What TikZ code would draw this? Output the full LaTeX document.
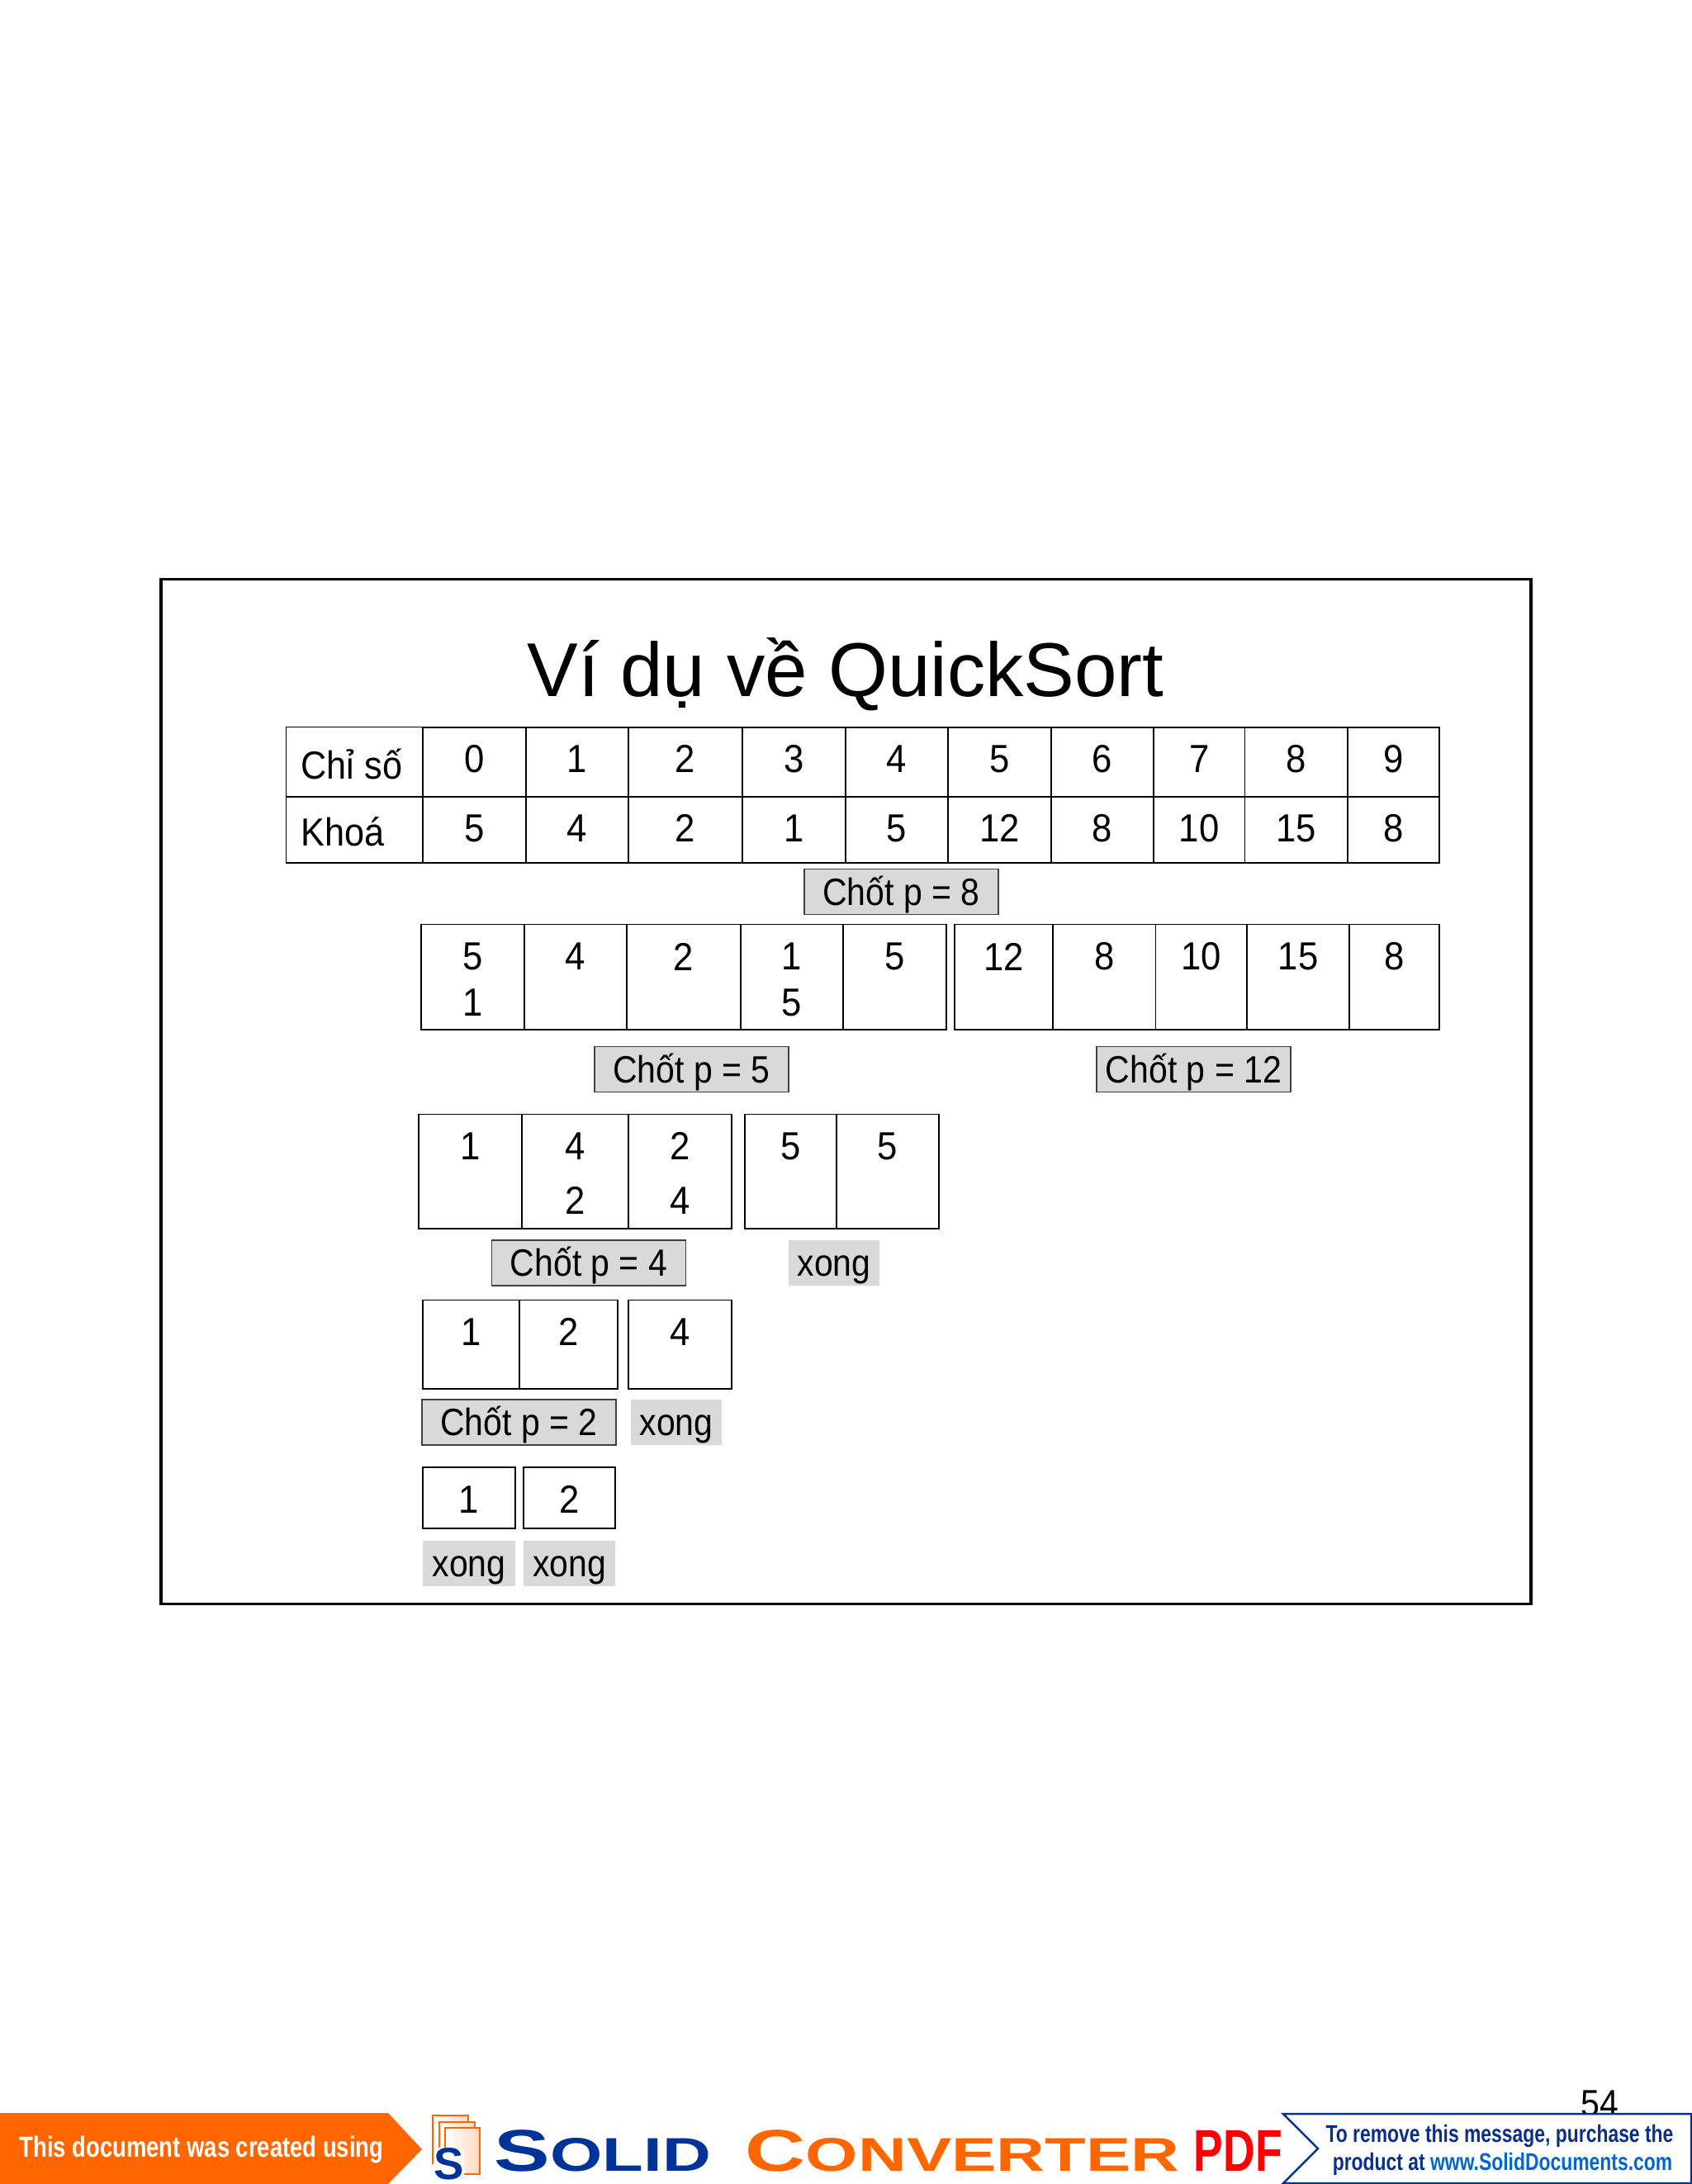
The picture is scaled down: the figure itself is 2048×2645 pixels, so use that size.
\documentclass[tikz,border=0pt]{standalone}
\usepackage{fontspec}
\setmainfont{Liberation Sans}
\newfontfamily\slidefont[FakeStretch=0.89]{Liberation Sans}
\newfontfamily\digitfont[FakeStretch=0.92]{Liberation Sans}
\newfontfamily\labelfont[FakeStretch=0.91]{Liberation Sans}
\newfontfamily\condfont[FakeStretch=0.78]{Liberation Sans}
\newfontfamily\widefont[FakeStretch=1.42]{Liberation Sans}
\newfontfamily\pdffont[FakeStretch=0.75]{Liberation Sans}
\definecolor{keygray}{HTML}{D9D9D9}
\definecolor{bannerorange}{HTML}{FF6600}
\definecolor{solidblue}{HTML}{003399}
\definecolor{ribbonblue}{HTML}{0B2E8A}
\definecolor{wwwblue}{HTML}{0066CC}
\begin{document}
\begin{tikzpicture}[x=0.01cm,y=-0.01cm,
	cellbox/.style={draw, line width=0.55pt, inner sep=0pt, outer sep=0pt},
	digit/.style={inner sep=0pt, font=\digitfont\fontsize{13.5pt}{15pt}\selectfont},
	rowlabel/.style={anchor=west, inner sep=0pt, font=\labelfont\fontsize{13.5pt}{15pt}\selectfont},
	keybox/.style={fill=keygray, inner sep=0pt, outer sep=0pt, text height=9.2pt, text depth=0pt, minimum height=0.55cm, font=\slidefont\fontsize{13.1pt}{15pt}\selectfont},
	pivotbox/.style={keybox, draw=black!75, line width=0.5pt, minimum width=2.35cm},
	donebox/.style={keybox, minimum width=1.1cm}]
\useasboundingbox (0,0) rectangle (2048,2645);
\node[draw, line width=0.9pt, inner sep=0pt, minimum width=16.58cm, minimum height=12.4cm] (frame) at (1024.5,1322) {};
\node[inner sep=0pt, font=\fontsize{26.3pt}{30pt}\selectfont] (title) at (1024,817) {Ví dụ về QuickSort};
% index and key table
\node[cellbox, line width=0.45pt, minimum width=1.655cm, minimum height=0.84cm] (head0) at (429.2,922.7) {};
\node[cellbox, line width=0.45pt, minimum width=1.655cm, minimum height=0.805cm] (head1) at (429.2,1004.9) {};
\node[rowlabel] (lab0) at (364,925) {Chỉ số};
\node[rowlabel] (lab1) at (364,1007) {Khoá};
\foreach \xa/\xb/\idx/\key [count=\i] in {512/637/0/5, 637/761/1/4, 761/899/2/2, 899/1024/3/1, 1024/1148/4/5, 1148/1273/5/12, 1273/1397/6/8, 1397/1507.5/7/10, 1507.5/1632/8/15, 1632/1743/9/8} {
	\node[cellbox, minimum width={(\xb-\xa)*0.01cm}, minimum height=0.84cm] (top\i) at ({(\xa+\xb)/2},922.7) {};
	\node[cellbox, minimum width={(\xb-\xa)*0.01cm}, minimum height=0.805cm] (bot\i) at ({(\xa+\xb)/2},1004.9) {};
	\node[digit] (topv\i) at ({(\xa+\xb)/2},919) {\idx};
	\node[digit] (botv\i) at ({(\xa+\xb)/2},1003) {\key};
}
\node[pivotbox] (p8) at (1091.5,1080) {Chốt p = 8};
% second row
\foreach \xa/\xb/\up/\lo [count=\i] in {510/634.6/5/1, 634.6/758.6/4/{}, 758.6/897/2/{}, 897/1021/1/5, 1021/1146/5/{}, 1155.6/1275/12/{}, 1275/1399.5/8/{}, 1399.5/1510/10/{}, 1510/1634/15/{}, 1634/1743/8/{}} {
	\node[cellbox, minimum width={(\xb-\xa)*0.01cm}, minimum height=1.27cm] (sec\i) at ({(\xa+\xb)/2},1183) {};
	\node[digit] (secu\i) at ({(\xa+\xb)/2},1158.6) {\up};
	\node[digit] (secl\i) at ({(\xa+\xb)/2},1214) {\lo};
}
\node[pivotbox] (p5) at (837.5,1295) {Chốt p = 5};
\node[pivotbox] (p12) at (1445.5,1295) {Chốt p = 12};
% third row
\foreach \xa/\xb/\up/\lo [count=\i] in {507/632/1/{}, 632/761/4/2, 761/886/2/4, 902/1013/5/{}, 1013/1137/5/{}} {
	\node[cellbox, minimum width={(\xb-\xa)*0.01cm}, minimum height=1.38cm] (thd\i) at ({(\xa+\xb)/2},1418.5) {};
	\node[digit] (thdu\i) at ({(\xa+\xb)/2},1388) {\up};
	\node[digit] (thdl\i) at ({(\xa+\xb)/2},1454) {\lo};
}
\node[pivotbox] (p4) at (713,1529.5) {Chốt p = 4};
\node[donebox] (d1) at (1010,1529.5) {xong};
% fourth row
\foreach \xa/\xb/\up [count=\i] in {512/629/1, 629/748/2, 761/886/4} {
	\node[cellbox, minimum width={(\xb-\xa)*0.01cm}, minimum height=1.07cm] (fth\i) at ({(\xa+\xb)/2},1628) {};
	\node[digit] (fthu\i) at ({(\xa+\xb)/2},1613) {\up};
}
\node[pivotbox] (p2) at (628.5,1722.5) {Chốt p = 2};
\node[donebox] (d2) at (819,1722.5) {xong};
% last row
\foreach \xa/\xb/\up [count=\i] in {512/624/1, 634/745/2} {
	\node[cellbox, line width=0.45pt, minimum width={(\xb-\xa)*0.01cm}, minimum height=0.74cm] (lst\i) at ({(\xa+\xb)/2},1814) {};
	\node[digit] (lstu\i) at ({(\xa+\xb)/2},1816) {\up};
	\node[donebox, minimum width={(\xb-\xa)*0.01cm}] (dl\i) at ({(\xa+\xb)/2},1893) {xong};
}
% footer strip
\node[inner sep=0pt, font=\slidefont\fontsize{13.1pt}{15pt}\selectfont] (pageno) at (1937,2548) {54};
\fill[bannerorange] (0,2559) -- (470,2559) -- (511,2603) -- (470,2645) -- (0,2645) -- cycle;
\node[inner sep=0pt, text=white, font=\condfont\bfseries\fontsize{10pt}{12pt}\selectfont] (banner) at (244,2603) {This document was created using};
\foreach \xa/\ya/\xb/\yb in {524/2562/567/2620, 532/2570/575/2626, 539/2577/581/2633}
	\draw[bannerorange, line width=0.6pt, left color=white, right color=bannerorange!25] (\xa,\ya) rectangle (\xb,\yb);
\fill[white, rounded corners=2pt] (525,2601) rectangle (562,2643);
\node[anchor=base, inner sep=0pt, text=solidblue, font=\bfseries\fontsize{15.5pt}{18pt}\selectfont] (logos) at (543.5,2639) {S};
\node[anchor=base west, inner sep=0pt, text=solidblue, font=\widefont\bfseries] (solid) at (598,2629) {\fontsize{20.3pt}{22pt}\selectfont S\fontsize{16.3pt}{18pt}\selectfont OLID};
\node[anchor=base west, inner sep=0pt, text=bannerorange, font=\widefont\bfseries] (conv) at (902,2629) {\fontsize{20.3pt}{22pt}\selectfont C\fontsize{16.3pt}{18pt}\selectfont ONVERTER};
\node[anchor=base west, inner sep=0pt, text=red, font=\pdffont\bfseries\fontsize{20.3pt}{22pt}\selectfont] (pdf) at (1445,2629) {PDF};
\draw[solidblue, line width=0.7pt, fill=white] (1554,2560) -- (2048,2560) -- (2048,2644) -- (1554,2644) -- (1596,2602) -- cycle;
\node[inner sep=0pt, text=ribbonblue, font=\condfont\bfseries\fontsize{8.35pt}{10pt}\selectfont] (msg1) at (1816,2587) {To remove this message, purchase the};
\node[inner sep=0pt, text=ribbonblue, font=\condfont\bfseries\fontsize{8.35pt}{10pt}\selectfont] (msg2) at (1819.5,2621) {product at \textcolor{wwwblue}{www.SolidDocuments.com}};
\end{tikzpicture}
\end{document}
